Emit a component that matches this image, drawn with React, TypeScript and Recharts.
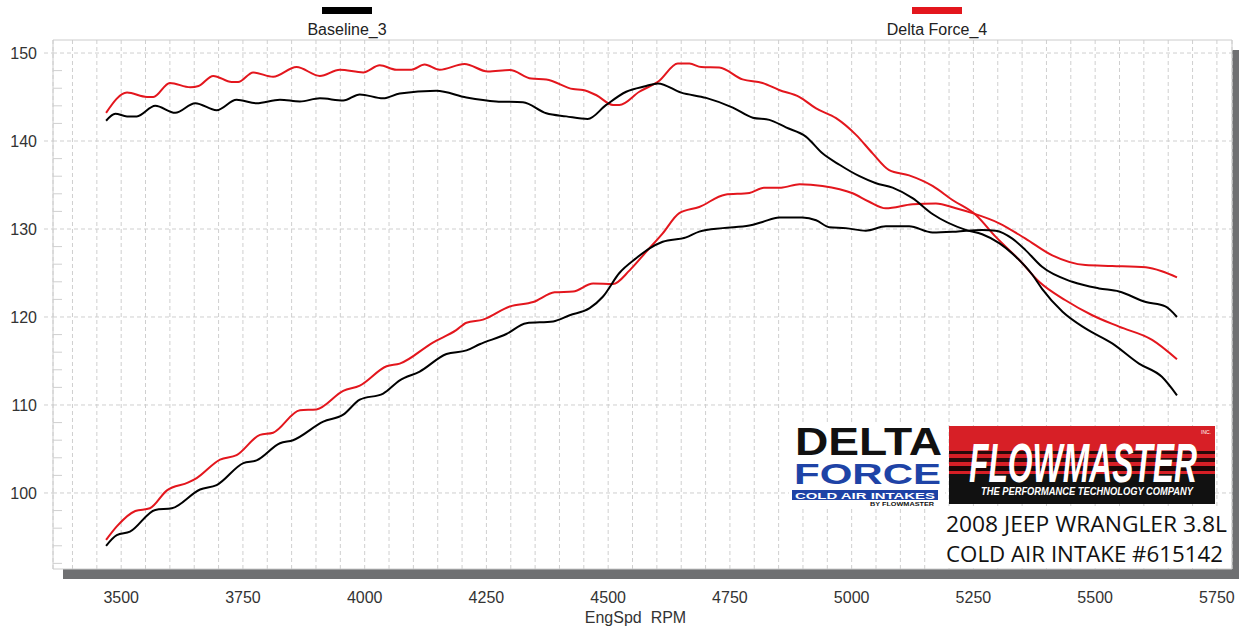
import React from "react";
import { LineChart, Line, XAxis, YAxis, CartesianGrid, ReferenceLine, ReferenceArea, Legend } from "recharts";

// Dyno runs: torque (upper pair) and horsepower (lower pair) vs engine speed
const baseTorqueRpm = [3469, 3488, 3512, 3532, 3570, 3611, 3652, 3696, 3737, 3778, 3826, 3867, 3908, 3956, 3990, 4038, 4072, 4147, 4209, 4270, 4325, 4373, 4414, 4458, 4496, 4537, 4578, 4602, 4650, 4701, 4756, 4797, 4831, 4865, 4906, 4940, 4975, 5016, 5050, 5084, 5125, 5166, 5234, 5268, 5303, 5337, 5371, 5391, 5433, 5480, 5535, 5590, 5637, 5668];
const baseTorque = [142.3, 143.1, 142.8, 142.8, 144.0, 143.2, 144.3, 143.5, 144.7, 144.3, 144.7, 144.5, 144.85, 144.6, 145.3, 144.85, 145.4, 145.7, 144.95, 144.5, 144.4, 143.15, 142.8, 142.5, 144.1, 145.6, 146.25, 146.55, 145.5, 144.9, 143.8, 142.65, 142.4, 141.55, 140.5, 138.6, 137.3, 136.0, 135.2, 134.7, 133.5, 131.7, 129.9, 129.4, 128.4, 126.85, 124.8, 123.2, 120.6, 118.7, 117.0, 114.7, 113.2, 111.1];

const deltaTorqueRpm = [3469, 3512, 3553, 3566, 3600, 3642, 3659, 3689, 3727, 3740, 3771, 3812, 3860, 3908, 3949, 3997, 4031, 4065, 4096, 4123, 4154, 4205, 4253, 4298, 4342, 4373, 4428, 4448, 4476, 4510, 4523, 4564, 4605, 4643, 4667, 4691, 4728, 4776, 4817, 4851, 4893, 4927, 4968, 5009, 5043, 5077, 5118, 5166, 5207, 5255, 5296, 5344, 5385, 5439, 5494, 5549, 5617, 5668];
const deltaTorque = [143.2, 145.5, 145.0, 145.0, 146.6, 146.1, 146.25, 147.4, 146.7, 146.7, 147.8, 147.3, 148.4, 147.4, 148.1, 147.8, 148.6, 148.1, 148.1, 148.7, 148.1, 148.75, 147.9, 148.07, 147.1, 147.0, 145.9, 145.8, 145.2, 144.1, 144.1, 145.6, 146.85, 148.8, 148.8, 148.4, 148.35, 147.0, 146.6, 145.8, 145.0, 143.7, 142.6, 140.7, 138.6, 136.7, 136.1, 134.9, 133.3, 131.6, 129.1, 126.5, 124.0, 121.9, 120.2, 118.9, 117.4, 115.2];

const baseHpRpm = [3469, 3491, 3518, 3570, 3604, 3662, 3696, 3751, 3778, 3826, 3853, 3915, 3956, 3990, 4038, 4072, 4113, 4168, 4209, 4236, 4291, 4332, 4387, 4421, 4462, 4489, 4523, 4558, 4585, 4612, 4660, 4687, 4735, 4790, 4817, 4851, 4899, 4927, 4954, 4988, 5029, 5070, 5118, 5166, 5214, 5268, 5296, 5330, 5357, 5391, 5453, 5508, 5549, 5604, 5644, 5668];
const baseHp = [93.98, 95.2, 95.6, 98.07, 98.26, 100.4, 100.9, 103.4, 103.7, 105.65, 106.0, 108.1, 108.9, 110.6, 111.3, 112.8, 113.8, 115.8, 116.2, 116.9, 118.07, 119.3, 119.5, 120.2, 121.0, 122.3, 125.0, 126.7, 127.8, 128.55, 129.05, 129.7, 130.1, 130.4, 130.8, 131.3, 131.3, 131.0, 130.2, 130.1, 129.8, 130.3, 130.3, 129.6, 129.7, 129.9, 129.8, 128.9, 127.6, 125.7, 124.0, 123.25, 122.9, 121.7, 121.2, 120.0];

const deltaHpRpm = [3469, 3491, 3529, 3559, 3594, 3638, 3655, 3703, 3737, 3785, 3812, 3867, 3901, 3956, 3990, 4045, 4072, 4140, 4188, 4209, 4243, 4298, 4346, 4390, 4428, 4469, 4510, 4544, 4578, 4612, 4646, 4687, 4740, 4790, 4820, 4855, 4893, 4940, 5002, 5036, 5070, 5125, 5173, 5214, 5248, 5303, 5357, 5412, 5480, 5535, 5604, 5637, 5668];
const deltaHp = [94.66, 96.2, 97.95, 98.26, 100.3, 101.2, 101.7, 103.8, 104.3, 106.6, 106.85, 109.4, 109.5, 111.6, 112.2, 114.4, 114.7, 117.1, 118.5, 119.35, 119.7, 121.2, 121.7, 122.8, 122.9, 123.8, 123.75, 125.3, 127.4, 129.5, 131.8, 132.5, 133.9, 134.1, 134.7, 134.7, 135.1, 134.9, 134.06, 133.1, 132.35, 132.8, 132.9, 132.35, 131.8, 130.65, 128.9, 127.0, 125.9, 125.8, 125.65, 125.2, 124.5];

const xLabels = [3500, 3750, 4000, 4250, 4500, 4750, 5000, 5250, 5500, 5750];
const yLabels = [100, 110, 120, 130, 140, 150];
const legendNames = ["Baseline_3", "Delta Force_4"];

const X_DOMAIN: [number, number] = [3360, 5781];
const Y_DOMAIN: [number, number] = [91.36, 151.48];
const xGridTicks = Array.from({ length: 48 }, (_, i) => 3400 + i * 50);
const yMinorTicks = Array.from({ length: 30 }, (_, i) => 92 + i * 2);

const BLACK = "#000000";
const RED = "#e3161d";
const GRID = "#cfcfcf";
const FONT = "'Liberation Sans', Arial, sans-serif";
const Y_GAP = 16;

const pts = (rpm: number[], v: number[]) => rpm.map((r, i) => ({ rpm: r, value: v[i] }));

const YTick = (props: any) => {
  const { x, y, payload } = props;
  const v = Math.round(payload.value);
  const edge = x + Y_GAP;
  if (yLabels.includes(v)) {
    return (
      <g>
        <line x1={edge - 9} x2={edge} y1={y} y2={y} stroke={GRID} strokeDasharray="4 3" />
        <text x={x} y={y} dy="0.36em" textAnchor="end" fontSize={16} fill="#333" fontFamily={FONT}>
          {v}
        </text>
      </g>
    );
  }
  return <line x1={edge} x2={edge + 9} y1={y} y2={y} stroke={GRID} />;
};

const XTick = (props: any) => {
  const { x, y, payload } = props;
  if (!xLabels.includes(payload.value)) return <g />;
  return (
    <text x={x} y={y} dy="0.71em" textAnchor="middle" fontSize={16} fill="#333" fontFamily={FONT}>
      {payload.value}
    </text>
  );
};

const legendCenters = [347, 937];

const LegendContent = (props: any) => {
  const items = props.payload || [];
  return (
    <div style={{ position: "relative", width: 1239, height: 40, fontFamily: FONT, fontSize: 16, color: "#222" }}>
      {items.map((item: any) => {
        const idx = legendNames.indexOf(item.value);
        if (idx < 0) return null;
        return (
          <div key={item.value} style={{ position: "absolute", left: legendCenters[idx] - 70, width: 140, top: 0, textAlign: "center" }}>
            <div style={{ width: 50, height: 7, background: item.color, margin: "7px auto 0" }} />
            <div style={{ marginTop: 7, lineHeight: "18px", whiteSpace: "nowrap" }}>{item.value}</div>
          </div>
        );
      })}
    </div>
  );
};

const Logos = () => (
  <svg width={1239} height={626} style={{ position: "absolute", left: 0, top: 0, pointerEvents: "none" }}>
    {/* Delta Force */}
    <rect x={789} y={423} width={156} height={85} fill="#fff" />
    <text x={795} y={455} fontSize={38} fontWeight={900} fill="#111" fontFamily={FONT} textLength={147} lengthAdjust="spacingAndGlyphs">
      DELTA
    </text>
    <text x={794} y={484} fontSize={30} fontWeight={900} fill="#1e43a6" fontFamily={FONT} textLength={147} lengthAdjust="spacingAndGlyphs">
      FORCE
    </text>
    <rect x={792} y={490} width={146} height={10} fill="#1e43a6" />
    <text x={795} y={498.5} fontSize={9} fontWeight={700} fill="#fff" fontFamily={FONT} textLength={140} lengthAdjust="spacingAndGlyphs">
      COLD AIR INTAKES
    </text>
    <text x={870} y={506} fontSize={5} fontWeight={700} fill="#111" fontFamily={FONT} textLength={64} lengthAdjust="spacingAndGlyphs">
      BY FLOWMASTER
    </text>
    {/* Flowmaster */}
    <rect x={949} y={426} width={266} height={78} fill="#d71f26" />
    <rect x={949} y={451} width={266} height={3} fill="#2a0a0a" />
    <rect x={949} y={458} width={266} height={4} fill="#2a0a0a" />
    <rect x={949} y={466} width={266} height={5} fill="#1a0606" />
    <rect x={949} y={474} width={266} height={30} fill="#111" />
    <text x={969} y={482} fontSize={56} fontWeight={900} fontStyle="italic" fill="#fff" fontFamily={FONT} textLength={228} lengthAdjust="spacingAndGlyphs">
      FLOWMASTER
    </text>
    <text x={981} y={495} fontSize={10} fontWeight={700} fontStyle="italic" fill="#fff" fontFamily={FONT} textLength={212} lengthAdjust="spacingAndGlyphs">
      THE PERFORMANCE TECHNOLOGY COMPANY
    </text>
    <text x={1201} y={434} fontSize={5} fill="#fff" fontFamily={FONT}>
      INC.
    </text>
    {/* caption */}
    <rect x={942} y={508} width={288} height={60} fill="#fff" />
    <text x={946} y={532} fontSize={21} fill="#111" fontFamily="'Open Sans', sans-serif" textLength={281} lengthAdjust="spacingAndGlyphs">
      2008 JEEP WRANGLER 3.8L
    </text>
    <text x={946} y={562} fontSize={21} fill="#111" fontFamily="'Open Sans', sans-serif" textLength={277} lengthAdjust="spacingAndGlyphs">
      COLD AIR INTAKE #615142
    </text>
  </svg>
);

export default function App() {
  return (
    <div style={{ position: "absolute", left: 0, top: 0, width: 1239, height: 626, background: "#fff", overflow: "hidden" }}>
      <div style={{ position: "absolute", left: 63, top: 50, width: 1190, height: 529, background: "#6f7072" }} />
      <div style={{ position: "absolute", left: 0, top: 0 }}>
        <LineChart width={1239} height={626} margin={{ top: 0, right: 7, bottom: 0, left: 0 }}>
          <CartesianGrid horizontal={false} stroke={GRID} strokeDasharray="4 3" fill="#fff" />
          <XAxis
            dataKey="rpm"
            type="number"
            domain={X_DOMAIN}
            ticks={xGridTicks}
            interval={0}
            allowDataOverflow
            height={57}
            axisLine={false}
            tickLine={false}
            tickSize={0}
            tickMargin={23}
            tick={<XTick />}
            label={{ value: "EngSpd\u00a0\u00a0RPM", position: "insideBottom", offset: 3, dx: -7, fontSize: 16, fill: "#333", fontFamily: FONT }}
          />
          <YAxis
            type="number"
            domain={Y_DOMAIN}
            ticks={yMinorTicks}
            interval={0}
            allowDataOverflow
            width={53}
            axisLine={false}
            tickLine={false}
            tickSize={0}
            tickMargin={Y_GAP}
            tick={<YTick />}
          />
          {yLabels.map((v) => (
            <ReferenceLine key={v} y={v} stroke={GRID} strokeDasharray="4 3" />
          ))}
          <ReferenceArea x1={X_DOMAIN[0]} x2={X_DOMAIN[1]} y1={Y_DOMAIN[0]} y2={Y_DOMAIN[1]} fill="none" fillOpacity={0} stroke="#cccccc" strokeOpacity={1} />
          <Legend verticalAlign="top" content={<LegendContent />} wrapperStyle={{ top: 0, left: 0 }} />
          <Line data={pts(deltaTorqueRpm, deltaTorque)} dataKey="value" name={legendNames[1]} type="monotone" stroke={RED} strokeWidth={2} dot={false} legendType="rect" isAnimationActive={false} />
          <Line data={pts(deltaHpRpm, deltaHp)} dataKey="value" name="Delta Force_4 HP" type="monotone" stroke={RED} strokeWidth={2} dot={false} legendType="none" isAnimationActive={false} />
          <Line data={pts(baseTorqueRpm, baseTorque)} dataKey="value" name={legendNames[0]} type="monotone" stroke={BLACK} strokeWidth={2} dot={false} legendType="rect" isAnimationActive={false} />
          <Line data={pts(baseHpRpm, baseHp)} dataKey="value" name="Baseline_3 HP" type="monotone" stroke={BLACK} strokeWidth={2} dot={false} legendType="none" isAnimationActive={false} />
        </LineChart>
      </div>
      <Logos />
    </div>
  );
}
